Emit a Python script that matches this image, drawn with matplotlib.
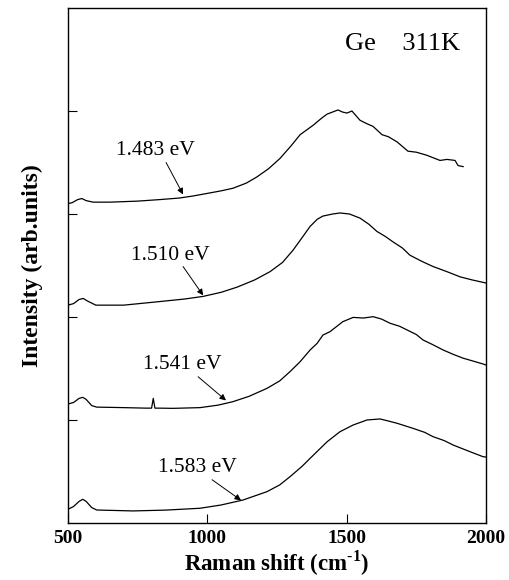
import numpy as np
import matplotlib
matplotlib.use('Agg')
import matplotlib.pyplot as plt

plt.rcParams['font.family'] = ['Liberation Serif', 'DejaVu Serif']
plt.rcParams['mathtext.fontset'] = 'custom'
plt.rcParams['mathtext.rm'] = 'Liberation Serif:bold'
plt.rcParams['mathtext.bf'] = 'Liberation Serif:bold'

# spectra (relative intensity, each curve is shifted by its offset)
labels = ['1.483 eV', '1.510 eV', '1.541 eV', '1.583 eV']
offsets = [3, 2, 1, 0]

x_1483 = [500, 515, 535, 550, 565, 590, 650, 750, 830, 900, 949, 1000, 1050, 1092, 1140,
          1178, 1220, 1261, 1300, 1333, 1379, 1410, 1430, 1469, 1485, 1501, 1519, 1535,
          1548, 1570, 1595, 1627, 1650, 1681, 1720, 1750, 1788, 1835, 1860, 1889, 1900, 1918]
y_1483 = [0.10, 0.11, 0.14, 0.15, 0.13, 0.115, 0.115, 0.125, 0.14, 0.155, 0.175, 0.20, 0.225,
          0.25, 0.30, 0.36, 0.44, 0.54, 0.66, 0.77, 0.86, 0.93, 0.97, 1.01, 0.99, 0.98, 1.00,
          0.95, 0.91, 0.88, 0.85, 0.77, 0.75, 0.70, 0.61, 0.60, 0.57, 0.52, 0.53, 0.52, 0.47, 0.46]

x_1510 = [500, 520, 540, 555, 570, 600, 700, 830, 920, 985, 1050, 1107, 1170, 1225, 1270,
          1308, 1340, 1369, 1395, 1415, 1450, 1476, 1510, 1548, 1580, 1609, 1640, 1666, 1700,
          1727, 1770, 1810, 1860, 1907, 1950, 2000]
y_1510 = [0.115, 0.13, 0.17, 0.18, 0.155, 0.115, 0.115, 0.15, 0.175, 0.20, 0.24, 0.29, 0.36,
          0.44, 0.53, 0.65, 0.77, 0.88, 0.95, 0.98, 1.00, 1.01, 1.00, 0.96, 0.90, 0.83, 0.78,
          0.73, 0.67, 0.60, 0.54, 0.49, 0.44, 0.39, 0.36, 0.33]

x_1541 = [500, 520, 540, 553, 565, 585, 603, 700, 780, 800, 806, 812, 830, 877, 974, 1040,
          1092, 1150, 1214, 1260, 1297, 1333, 1369, 1394, 1415, 1440, 1486, 1523, 1560, 1595,
          1625, 1656, 1690, 1717, 1750, 1774, 1810, 1846, 1880, 1918, 1950, 1989, 2000]
y_1541 = [0.155, 0.17, 0.21, 0.22, 0.20, 0.14, 0.125, 0.12, 0.115, 0.115, 0.21, 0.115, 0.115,
          0.113, 0.12, 0.145, 0.178, 0.23, 0.307, 0.38, 0.47, 0.566, 0.68, 0.744, 0.825, 0.857,
          0.954, 0.996, 0.99, 1.003, 0.98, 0.939, 0.91, 0.874, 0.83, 0.777, 0.73, 0.68, 0.64,
          0.60, 0.575, 0.544, 0.534]

x_1583 = [500, 520, 540, 553, 565, 585, 603, 733, 850, 974, 1050, 1128, 1214, 1260, 1297,
          1340, 1369, 1400, 1430, 1476, 1523, 1573, 1620, 1650, 1681, 1738, 1780, 1810, 1850,
          1882, 1943, 1989, 2000]
y_1583 = [0.133, 0.16, 0.21, 0.23, 0.21, 0.15, 0.126, 0.117, 0.125, 0.143, 0.175, 0.223,
          0.304, 0.37, 0.45, 0.55, 0.628, 0.71, 0.789, 0.886, 0.951, 1.000, 1.010, 0.99, 0.968,
          0.919, 0.88, 0.838, 0.80, 0.757, 0.692, 0.644, 0.64]

xs = [x_1483, x_1510, x_1541, x_1583]
ys = [y_1483, y_1510, y_1541, y_1583]

# label text position and arrow (tail, tip) for each curve
text_pos = [(812, 3.62), (866, 2.60), (909, 1.54), (963, 0.54)]
arrow_tail = [(852, 3.50), (913, 2.49), (967, 1.42), (1017, 0.42)]
arrow_tip = [(913, 3.19), (985, 2.21), (1067, 1.19), (1121, 0.22)]

fig = plt.figure(figsize=(5.1, 5.8), dpi=100)
ax = fig.add_axes([0.1333, 0.0983, 0.8196, 0.8879])

for i in range(len(labels)):
    ax.plot(xs[i], np.array(ys[i]) + offsets[i], color='black', lw=0.9)
    ax.text(text_pos[i][0], text_pos[i][1], labels[i], fontsize=15.5,
            ha='center', va='center')
    ax.annotate('', xy=arrow_tip[i], xytext=arrow_tail[i],
                arrowprops=dict(arrowstyle='-|>', color='black', lw=0.7,
                                mutation_scale=9, shrinkA=0, shrinkB=0))

ax.text(1702, 4.65, 'Ge    311K', fontsize=19, ha='center', va='center')

ax.set_xlim(500, 2000)
ax.set_ylim(0, 5)
ax.set_xticks([500, 1000, 1500, 2000])
ax.set_yticks([1, 2, 3, 4])
ax.tick_params(direction='in', length=6.5, width=0.8, top=False, right=False,
               labelleft=False, pad=5)
for lab in ax.get_xticklabels():
    lab.set_fontsize(14)
    lab.set_fontweight('bold')
for s in ax.spines.values():
    s.set_linewidth(1.0)

ax.set_xlabel(r'Raman shift (cm$^{\text{-1}}$)', fontsize=16.5, fontweight='bold', labelpad=1)
ax.set_ylabel('Intensity (arb.units)', fontsize=17, fontweight='bold', labelpad=18)

fig.savefig('out.png', dpi=100)
